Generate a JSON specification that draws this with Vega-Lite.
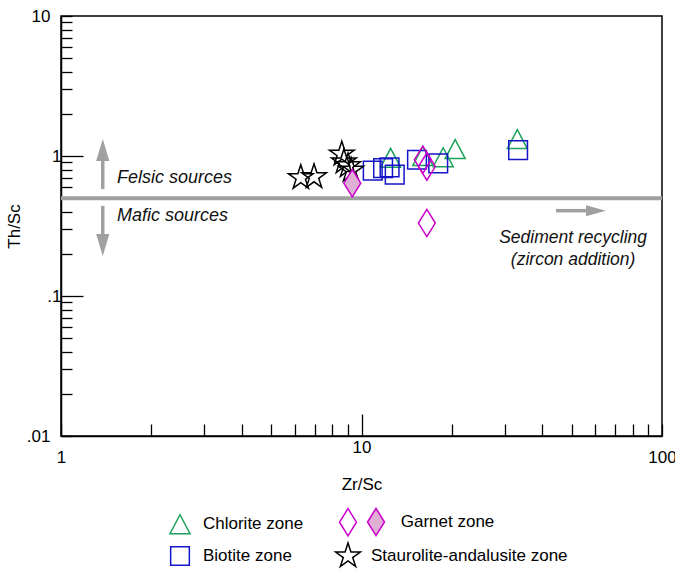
{
  "$schema": "https://vega.github.io/schema/vega-lite/v6.json",
  "width": 601,
  "height": 420,
  "autosize": {"type": "none"},
  "padding": {"left": 61, "top": 16, "right": 13, "bottom": 133},
  "background": "white",
  "config": {
    "font": "Liberation Sans",
    "view": {"stroke": "#000", "strokeWidth": 1.5},
    "axis": {
      "grid": false,
      "domainColor": "#000",
      "domainWidth": 1.5,
      "tickColor": "#000",
      "tickWidth": 1.3,
      "labelColor": "#000",
      "labelFontSize": 17,
      "labelOverlap": false,
      "labelFlush": false,
      "titleColor": "#000",
      "titleFontSize": 17,
      "titleFontWeight": "normal"
    }
  },
  "datasets": {
    "pts": [
      {"zone": "Chlorite zone", "zr": 12.5, "th": 0.97},
      {"zone": "Chlorite zone", "zr": 16.0, "th": 1.0},
      {"zone": "Chlorite zone", "zr": 18.7, "th": 0.98},
      {"zone": "Chlorite zone", "zr": 20.5, "th": 1.12},
      {"zone": "Chlorite zone", "zr": 33.0, "th": 1.32},
      {"zone": "Biotite zone", "zr": 10.9, "th": 0.785},
      {"zone": "Biotite zone", "zr": 11.8, "th": 0.82},
      {"zone": "Biotite zone", "zr": 12.4, "th": 0.83},
      {"zone": "Biotite zone", "zr": 12.9, "th": 0.735},
      {"zone": "Biotite zone", "zr": 15.3, "th": 0.94},
      {"zone": "Biotite zone", "zr": 18.0, "th": 0.887},
      {"zone": "Biotite zone", "zr": 33.2, "th": 1.10},
      {"zone": "Garnet zone", "zr": 16.0, "th": 0.94},
      {"zone": "Garnet zone", "zr": 16.5, "th": 0.84},
      {"zone": "Garnet zone", "zr": 16.5, "th": 0.332},
      {"zone": "Staurolite-andalusite zone", "zr": 6.28, "th": 0.70},
      {"zone": "Staurolite-andalusite zone", "zr": 6.95, "th": 0.71},
      {"zone": "Staurolite-andalusite zone", "zr": 8.6, "th": 1.03},
      {"zone": "Staurolite-andalusite zone", "zr": 8.74, "th": 0.906},
      {"zone": "Staurolite-andalusite zone", "zr": 9.02, "th": 0.85},
      {"zone": "Staurolite-andalusite zone", "zr": 9.23, "th": 0.79}
    ]
  },
  "layer": [
    {
      "data": {"values": [{"th": 0.5}]},
      "mark": {"type": "rule", "color": "#a0a0a0", "strokeWidth": 4},
      "encoding": {
        "y": {"field": "th", "type": "quantitative", "scale": {"type": "log", "domain": [0.01, 10]}}
      }
    },
    {
      "data": {"values": [
        {"zr": 1.377, "zr2": 1.377, "th": 0.581, "th2": 0.921},
        {"zr": 1.377, "zr2": 1.377, "th": 0.44, "th2": 0.277},
        {"zr": 44.4, "zr2": 55.9, "th": 0.407, "th2": 0.407}
      ]},
      "mark": {"type": "rule", "color": "#a0a0a0", "strokeWidth": 3.5},
      "encoding": {
        "x": {"field": "zr", "type": "quantitative"},
        "x2": {"field": "zr2"},
        "y": {"field": "th", "type": "quantitative"},
        "y2": {"field": "th2"}
      }
    },
    {
      "data": {"values": [{"zr": 1.377, "th": 1.323}]},
      "mark": {"type": "point", "shape": "M0,0L0.6,2L-0.6,2Z", "size": 484, "filled": true, "color": "#a0a0a0", "opacity": 1},
      "encoding": {
        "x": {"field": "zr", "type": "quantitative"},
        "y": {"field": "th", "type": "quantitative"}
      }
    },
    {
      "data": {"values": [{"zr": 1.377, "th": 0.193}]},
      "mark": {"type": "point", "shape": "M0,0L0.6,-2L-0.6,-2Z", "size": 484, "filled": true, "color": "#a0a0a0", "opacity": 1},
      "encoding": {
        "x": {"field": "zr", "type": "quantitative"},
        "y": {"field": "th", "type": "quantitative"}
      }
    },
    {
      "data": {"values": [{"zr": 65.1, "th": 0.407}]},
      "mark": {"type": "point", "shape": "M0,0L-2,-0.55L-2,0.55Z", "size": 400, "filled": true, "color": "#a0a0a0", "opacity": 1},
      "encoding": {
        "x": {"field": "zr", "type": "quantitative"},
        "y": {"field": "th", "type": "quantitative"}
      }
    },
    {
      "data": {"values": [
        {"zr": 1.536, "th": 0.697, "label": "Felsic sources"},
        {"zr": 1.536, "th": 0.373, "label": "Mafic sources"}
      ]},
      "mark": {"type": "text", "align": "left", "baseline": "middle", "fontStyle": "italic", "fontSize": 18, "color": "#111"},
      "encoding": {
        "x": {"field": "zr", "type": "quantitative"},
        "y": {"field": "th", "type": "quantitative"},
        "text": {"field": "label"}
      }
    },
    {
      "data": {"values": [
        {"zr": 50.6, "th": 0.26, "label": "Sediment recycling"},
        {"zr": 50.6, "th": 0.181, "label": "(zircon addition)"}
      ]},
      "mark": {"type": "text", "align": "center", "baseline": "middle", "fontStyle": "italic", "fontSize": 17.5, "color": "#111"},
      "encoding": {
        "x": {"field": "zr", "type": "quantitative"},
        "y": {"field": "th", "type": "quantitative"},
        "text": {"field": "label"}
      }
    },
    {
      "data": {"name": "pts"},
      "mark": {"type": "point", "filled": false, "size": 676, "strokeWidth": 1.5, "opacity": 1},
      "encoding": {
        "x": {
          "field": "zr", "type": "quantitative",
          "scale": {"type": "log", "domain": [1, 100]},
          "axis": {
            "title": "Zr/Sc",
            "values": [1, 2, 3, 4, 5, 6, 7, 8, 9, 10, 20, 30, 40, 50, 60, 70, 80, 90, 100],
            "labelExpr": "datum.value == 1 ? '1' : datum.value == 10 ? '10' : datum.value == 100 ? '100' : ''",
            "tickSize": {"condition": {"test": "datum.value == 10", "value": -22}, "value": -12},
            "labelPadding": 25,
            "titlePadding": 11
          }
        },
        "y": {
          "field": "th", "type": "quantitative",
          "scale": {"type": "log", "domain": [0.01, 10]},
          "axis": {
            "title": "Th/Sc",
            "values": [0.01, 0.02, 0.03, 0.04, 0.05, 0.06, 0.07, 0.08, 0.09, 0.1, 0.2, 0.3, 0.4, 0.5, 0.6, 0.7, 0.8, 0.9, 1, 2, 3, 4, 5, 6, 7, 8, 9, 10],
            "labelExpr": "datum.value == 10 ? '10' : datum.value == 1 ? '1' : datum.value == 0.1 ? '.1' : datum.value == 0.01 ? '.01' : ''",
            "tickSize": {"condition": {"test": "datum.value == 1 || datum.value == 0.1", "value": -22}, "value": -11},
            "labelPadding": 22,
            "titlePadding": 3
          }
        },
        "shape": {
          "field": "zone", "type": "nominal",
          "scale": {
            "domain": ["Chlorite zone", "Garnet zone", "Biotite zone", "Staurolite-andalusite zone"],
            "range": [
              "M0,-0.73L0.77,0.73L-0.77,0.73Z",
              "M0,-1.05L0.65,0L0,1.05L-0.65,0Z",
              "M-0.72,-0.72L0.72,-0.72L0.72,0.72L-0.72,0.72Z",
              "M0,-1L0.225,-0.309L0.951,-0.309L0.363,0.118L0.588,0.809L0,0.382L-0.588,0.809L-0.363,0.118L-0.951,-0.309L-0.225,-0.309Z"
            ]
          },
          "legend": {
            "orient": "none", "legendX": 105, "legendY": 492,
            "columns": 2, "direction": "horizontal", "title": null,
            "symbolSize": 676, "symbolStrokeWidth": 1.5,
            "labelFontSize": 17, "labelColor": "#000", "labelOffset": 9,
            "rowPadding": 1, "columnPadding": 28, "labelLimit": 400,
            "labelExpr": "datum.label == 'Garnet zone' ? '\u200b\u2003\u2002\u2005Garnet zone' : datum.label"
          }
        },
        "color": {
          "field": "zone", "type": "nominal",
          "scale": {
            "domain": ["Chlorite zone", "Garnet zone", "Biotite zone", "Staurolite-andalusite zone"],
            "range": ["#1ba25a", "#cc00cc", "#1414c8", "#000000"]
          },
          "legend": {
            "orient": "none", "legendX": 105, "legendY": 492,
            "columns": 2, "direction": "horizontal", "title": null,
            "symbolSize": 676, "symbolStrokeWidth": 1.5,
            "labelFontSize": 17, "labelColor": "#000", "labelOffset": 9,
            "rowPadding": 1, "columnPadding": 28, "labelLimit": 400,
            "labelExpr": "datum.label == 'Garnet zone' ? '\u200b\u2003\u2002\u2005Garnet zone' : datum.label"
          }
        }
      }
    },
    {
      "data": {"values": [{"zr": 9.32, "th": 0.64, "kind": "garnet filled"}]},
      "mark": {"type": "point", "filled": true, "shape": "M0,-1.05L0.65,0L0,1.05L-0.65,0Z", "size": 676, "stroke": "#cc00cc", "strokeWidth": 1.5, "opacity": 1},
      "encoding": {
        "x": {"field": "zr", "type": "quantitative"},
        "y": {"field": "th", "type": "quantitative"},
        "fill": {
          "field": "kind", "type": "nominal",
          "scale": {"range": ["#e0b0d4"]},
          "legend": {
            "orient": "none", "legendX": 301, "legendY": 492, "title": null,
            "symbolType": "M0,-1.05L0.65,0L0,1.05L-0.65,0Z", "symbolSize": 676,
            "symbolStrokeColor": "#cc00cc", "symbolStrokeWidth": 1.5,
            "labelExpr": "''", "labelOffset": 0
          }
        }
      }
    }
  ]
}
